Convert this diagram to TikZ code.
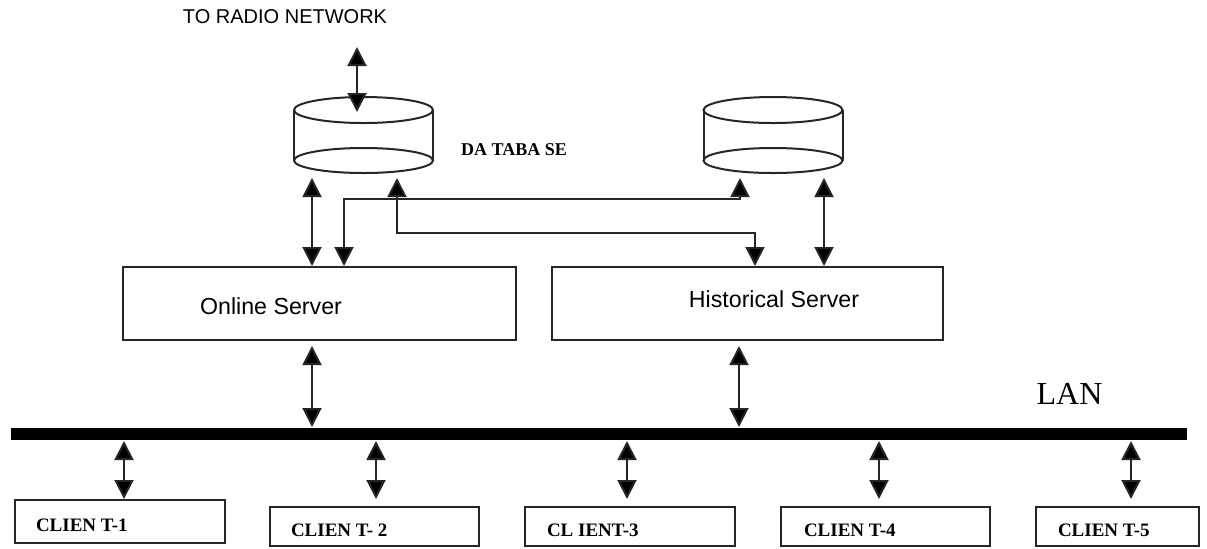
\documentclass[tikz,border=0pt]{standalone}
\usepackage{fontspec}
\setmainfont{Liberation Serif}
\newfontfamily\arialf{Liberation Sans}
\usetikzlibrary{arrows.meta}
\begin{document}
\begin{tikzpicture}[x=0.5pt,y=-0.5pt,
  line width=1pt, draw=black!85,
  arr2/.style={{Triangle[length=9.5pt,width=9.5pt,fill=black]}-{Triangle[length=9.5pt,width=9.5pt,fill=black]}, draw=black!85, line width=1pt},
  box/.style={draw=black!85, line width=1pt, rectangle, inner sep=0pt},
  srvtext/.style={font=\arialf\fontsize{11.6}{13}\selectfont, inner sep=0pt},
  clitext/.style={font=\bfseries\fontsize{9.5}{11}\selectfont, inner sep=0pt, anchor=west},
  dbarea/.style={inner sep=0pt, minimum width=69.5pt, minimum height=38pt}]
\useasboundingbox (0,0) rectangle (1207,548);

% cylinders
\node[dbarea] (db1) at (363.5,135) {};
\node[dbarea] (db2) at (773,135) {};
\foreach \cx in {363.5,773}{
  \draw[black!85, line width=1pt] (\cx,110) ellipse [x radius=69.5, y radius=13];
  \draw[black!85, line width=1pt] (\cx,160.5) ellipse [x radius=69.5, y radius=12.5];
  \draw[black!85, line width=1pt] (\cx-69.5,110) -- (\cx-69.5,160.5);
  \draw[black!85, line width=1pt] (\cx+69.5,110) -- (\cx+69.5,160.5);
}

% texts
\node[font=\arialf\fontsize{10}{12}\selectfont, inner sep=0pt] (radio) at (285,17) {TO RADIO NETWORK};
\node[font=\bfseries\fontsize{9}{11}\selectfont, inner sep=0pt] (dblabel) at (514,150) {DA TABA SE};
\node[font=\fontsize{16}{18}\selectfont, inner sep=0pt] (lanlabel) at (1069.5,394) {LAN};

% servers
\node[box, minimum width=196.5pt, minimum height=36.5pt] (online) at (319.5,303.5) {};
\node[srvtext] (onlinet) at (271,306) {Online Server};
\node[box, minimum width=195.5pt, minimum height=36.5pt] (hist) at (747.5,303.5) {};
\node[srvtext] (histt) at (774,299) {Historical Server};

% LAN bar
\node[fill=black, inner sep=0pt, minimum width=588pt, minimum height=6pt] (lan) at (599,434) {};

% clients
\node[box, minimum width=105pt, minimum height=21.5pt] (c1) at (120,521.5) {};
\node[box, minimum width=104.5pt, minimum height=19.5pt] (c2) at (374.5,526.5) {};
\node[box, minimum width=105pt, minimum height=19.5pt] (c3) at (630,526.5) {};
\node[box, minimum width=104.5pt, minimum height=19.5pt] (c4) at (885.5,526.5) {};
\node[box, minimum width=81.5pt, minimum height=19.5pt] (c5) at (1117.5,526.5) {};
\node[clitext] (c1t) at (35,525) {CLIEN T-1};
\node[clitext] (c2t) at (290,530) {CLIEN T- 2};
\node[clitext] (c3t) at (546,530) {CL IENT-3};
\node[clitext] (c4t) at (803,530) {CLIEN T-4};
\node[clitext] (c5t) at (1057,530) {CLIEN T-5};

% helper coordinates
\coordinate (r1) at (357,47);
\coordinate (r2) at (357,112);
\coordinate (x312) at (312,0);
\coordinate (x397) at (397,0);
\coordinate (x344) at (344,0);
\coordinate (x824) at (824,0);
\coordinate (x739) at (739,0);
\coordinate (j1) at (755,233);
\coordinate (j2) at (740,199);
\coordinate (k1) at (124,0);
\coordinate (k2) at (376,0);
\coordinate (k3) at (627,0);
\coordinate (k4) at (879,0);
\coordinate (k5) at (1131,0);

% connectors
\draw[arr2] (r1) -- (r2);
\draw[arr2, shorten <=2pt] (db1.south -| x312) -- (online.north -| x312);
\draw[arr2, shorten <=2pt] (db1.south -| x397) |- (j1) -- (hist.north -| j1);
\draw[arr2, shorten >=2pt] (online.north -| x344) |- (j2) -- (db2.south -| j2);
\draw[arr2, shorten <=2pt] (db2.south -| x824) -- (hist.north -| x824);
\draw[arr2, shorten <=2.5pt] (online.south -| x312) -- (lan.north -| x312);
\draw[arr2, shorten <=2.5pt] (hist.south -| x739) -- (lan.north -| x739);
\draw[arr2] (lan.south -| k1) -- (c1.north -| k1);
\draw[arr2, shorten >=3.5pt] (lan.south -| k2) -- (c2.north -| k2);
\draw[arr2, shorten >=3.5pt] (lan.south -| k3) -- (c3.north -| k3);
\draw[arr2, shorten >=3.5pt] (lan.south -| k4) -- (c4.north -| k4);
\draw[arr2, shorten >=3.5pt] (lan.south -| k5) -- (c5.north -| k5);
\end{tikzpicture}
\end{document}
